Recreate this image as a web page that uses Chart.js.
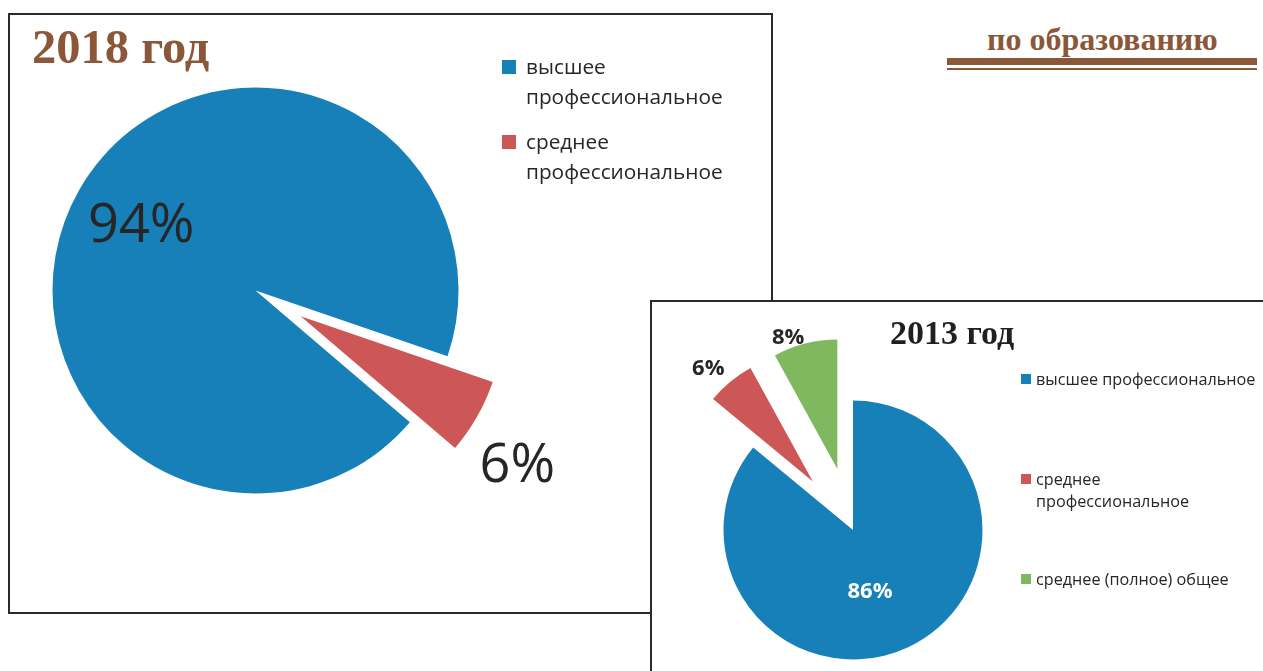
<!DOCTYPE html>
<html lang="ru">
<head>
<meta charset="utf-8">
<title>по образованию</title>
<script src="https://cdn.jsdelivr.net/npm/chart.js@4.4.1/dist/chart.umd.min.js"></script>
<style>
  html, body { margin: 0; padding: 0; background: #fff; }
  body { position: relative; width: 1263px; height: 671px; overflow: hidden; }
  .box { position: absolute; box-sizing: border-box; border: 2px solid #2b2b2b; background: #fff; }
  .box canvas { position: absolute; left: 0; top: 0; }
  .title { position: absolute; font-family: "Liberation Serif", "Times New Roman", serif; font-weight: bold; line-height: 1; white-space: nowrap; }
  .legend-item { position: absolute; font-family: "Open Sans", sans-serif; color: #262626; }
  .legend-item i { position: absolute; display: block; }
  .rule { position: absolute; left: 947px; width: 310px; background: #8a5738; }
</style>
</head>
<body>

<div class="title" style="left:987px; top:23px; font-size:32px; color:#8a5738;">по образованию</div>
<div class="rule" style="top:58px; height:7px;"></div>
<div class="rule" style="top:68px; height:2px;"></div>

<div class="box" id="box2018" style="left:8px; top:13px; width:765px; height:601px;">
  <canvas id="pie2018" width="761" height="597"></canvas>
  <div class="title" style="left:22px; top:7.5px; font-size:48.5px; color:#8a5738;">2018 год</div>
</div>

<div class="box" id="box2013" style="left:650px; top:300px; width:700px; height:500px;">
  <canvas id="pie2013" width="611" height="369"></canvas>
  <div class="title" style="left:238px; top:14px; font-size:34px; color:#231f20;">2013 год</div>
</div>

<script>
'use strict';

// data (shares in %)
const categories2018 = ['высшее профессиональное', 'среднее профессиональное'];
const shares2018 = [94, 6];

const categories2013 = ['высшее профессиональное', 'среднее профессиональное', 'среднее (полное) общее'];
const shares2013 = [86, 6, 8];

const sliceColors = ['#1780b9', '#cd5756', '#80b860'];

// how far each slice is pulled out of the pie, px
const explode2018 = [0, 52];
const explode2013 = [0, 63, 63];

// let the arcs be drawn shifted along their bisector (Excel style explosion)
const baseArcDraw = Chart.ArcElement.prototype.draw;
Chart.ArcElement.prototype.draw = function (ctx) {
  const d = this.explode || 0;
  if (!d) {
    return baseArcDraw.apply(this, arguments);
  }
  const mid = (this.startAngle + this.endAngle) / 2;
  ctx.save();
  ctx.translate(Math.cos(mid) * d, Math.sin(mid) * d);
  baseArcDraw.apply(this, arguments);
  ctx.restore();
};

function explodePlugin(distances) {
  return {
    id: 'explode',
    beforeDatasetsDraw(chart) {
      chart.getDatasetMeta(0).data.forEach((arc, i) => {
        arc.explode = distances[i] || 0;
      });
    }
  };
}

// percent labels: distance as a part of the radius, turn in degrees off the bisector
function labelPlugin(values, distances, cfg) {
  return {
    id: 'sliceLabels',
    afterDatasetsDraw(chart) {
      const ctx = chart.ctx;
      chart.getDatasetMeta(0).data.forEach((arc, i) => {
        const p = arc.getProps(['x', 'y', 'startAngle', 'endAngle', 'outerRadius'], true);
        const mid = (p.startAngle + p.endAngle) / 2;
        const d = distances[i] || 0;
        const ax = p.x + Math.cos(mid) * d;
        const ay = p.y + Math.sin(mid) * d;
        const a = mid + cfg.turn[i] * Math.PI / 180;
        const r = p.outerRadius * cfg.dist[i];
        const cx = ax + Math.cos(a) * r;
        const cy = ay + Math.sin(a) * r;
        ctx.save();
        ctx.font = cfg.weight + ' ' + cfg.size + 'px "Open Sans", sans-serif';
        ctx.fillStyle = cfg.color[i];
        ctx.textAlign = 'center';
        ctx.textBaseline = 'alphabetic';
        ctx.fillText(values[i] + '%', cx, cy + 0.357 * cfg.size);
        ctx.restore();
      });
    }
  };
}

// legend box is as wide as its first entry (+ slack), longer entries wrap like in Excel
function textWidth(text, size) {
  const c = document.createElement('canvas').getContext('2d');
  c.font = size + 'px "Open Sans", sans-serif';
  return c.measureText(text).width;
}

function buildLegend(box, cats, colors, o) {
  const width = o.width || Math.ceil(textWidth(cats[0], o.size)) + 1;
  cats.forEach((name, i) => {
    const item = document.createElement('div');
    item.className = 'legend-item';
    item.style.left = o.left + 'px';
    item.style.top = (o.top + i * o.gap) + 'px';
    item.style.width = width + 'px';
    item.style.fontSize = o.size + 'px';
    item.style.lineHeight = o.line + 'px';
    const sq = document.createElement('i');
    sq.style.left = -o.boxShift + 'px';
    sq.style.top = o.boxTop + 'px';
    sq.style.width = o.box + 'px';
    sq.style.height = o.box + 'px';
    sq.style.background = colors[i];
    item.appendChild(sq);
    item.appendChild(document.createTextNode(name));
    box.appendChild(item);
  });
}

new Chart(document.getElementById('pie2018'), {
  type: 'pie',
  data: {
    labels: categories2018,
    datasets: [{
      data: shares2018,
      backgroundColor: sliceColors.slice(0, 2),
      borderWidth: 0
    }]
  },
  options: {
    responsive: false,
    animation: false,
    events: [],
    rotation: 130.5,
    radius: 203,
    layout: { padding: { left: 0, right: 270, top: 0, bottom: 46 } },
    plugins: { legend: { display: false }, tooltip: { enabled: false } }
  },
  plugins: [
    explodePlugin(explode2018),
    labelPlugin(shares2018, explode2018, {
      size: 54, weight: 'normal',
      color: ['#262626', '#262626'],
      dist: [0.655, 1.289],
      turn: [1.1, 4.4]
    })
  ]
});

new Chart(document.getElementById('pie2013'), {
  type: 'pie',
  data: {
    labels: categories2013,
    datasets: [{
      data: shares2013,
      backgroundColor: sliceColors,
      borderWidth: 0
    }]
  },
  options: {
    responsive: false,
    animation: false,
    events: [],
    rotation: 0,
    radius: 129.5,
    layout: { padding: { left: 0, right: 209, top: 87, bottom: 0 } },
    plugins: { legend: { display: false }, tooltip: { enabled: false } }
  },
  plugins: [
    explodePlugin(explode2013),
    labelPlugin(shares2013, explode2013, {
      size: 22, weight: 'bold',
      color: ['#ffffff', '#262626', '#262626'],
      dist: [0.482, 1.195, 1.095],
      turn: [9.4, -2.9, -5.9]
    })
  ]
});

buildLegend(document.getElementById('box2018'), categories2018, sliceColors, {
  left: 516, top: 36.3, gap: 75, width: 240, size: 20.8, line: 30,
  box: 14, boxShift: 24, boxTop: 9
});

buildLegend(document.getElementById('box2013'), categories2013, sliceColors, {
  left: 384, top: 65.8, gap: 100, size: 16.2, line: 22,
  box: 10.5, boxShift: 15.3, boxTop: 6
});
</script>
</body>
</html>
